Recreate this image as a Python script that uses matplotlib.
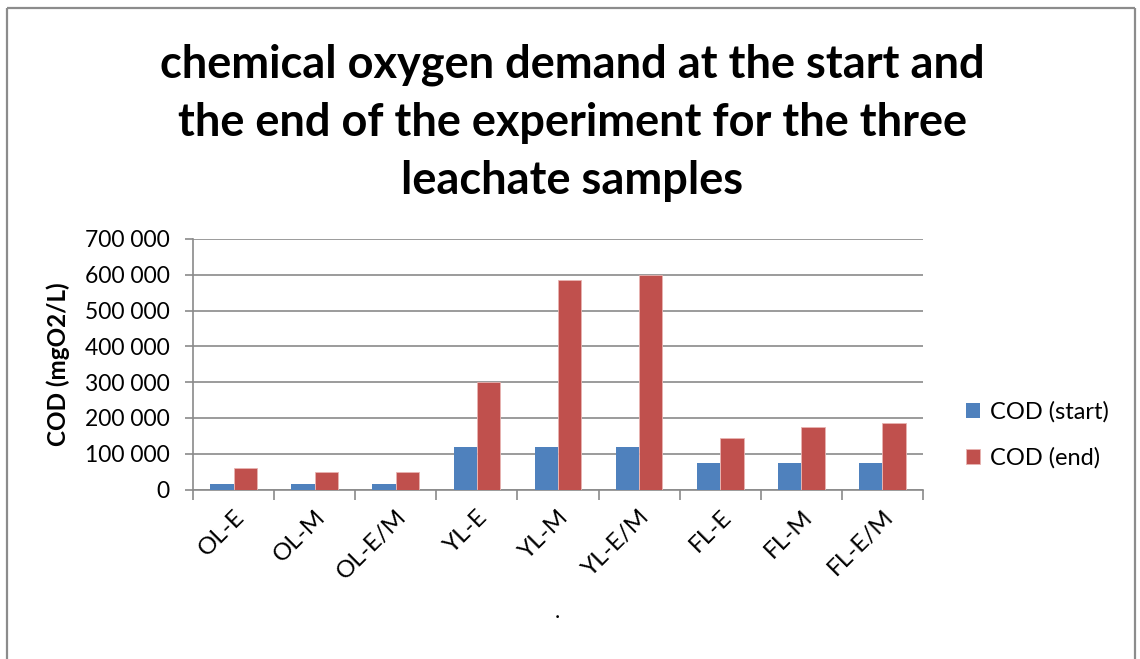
import matplotlib
matplotlib.use("Agg")
import matplotlib.pyplot as plt
from matplotlib.lines import Line2D
from matplotlib.ticker import FuncFormatter, FixedLocator
import numpy as np

categories = ["OL-E", "OL-M", "OL-E/M", "YL-E", "YL-M", "YL-E/M", "FL-E", "FL-M", "FL-E/M"]
cod_start = [15000, 15000, 15000, 120000, 120000, 120000, 75000, 75000, 75000]
cod_end = [60000, 50000, 50000, 300000, 585000, 600000, 143000, 175000, 187000]
series_names = ["COD (start)", "COD (end)"]
yticks = [0, 100000, 200000, 300000, 400000, 500000, 600000, 700000]
title = "chemical oxygen demand at the start and\nthe end of the experiment for the three\nleachate samples"
ylabel = "COD (mgO2/L)"

plt.rcParams['font.family'] = ['Lato', 'DejaVu Sans']

W, H = 1140, 659
fig = plt.figure(figsize=(W / 100, H / 100), dpi=100)
fig.patch.set_facecolor("white")

def fx(px):
    return px / W

def fy(py):
    return 1 - py / H

# outer frame
frame_c = "#8c8c8c"
for xs, ys in [([7, 7], [8, 670]), ([7, 1135], [8, 8]), ([1135, 1135], [8, 670])]:
    fig.add_artist(Line2D([fx(x) for x in xs], [fy(y) for y in ys], color=frame_c, lw=1.6,
                          transform=fig.transFigure, solid_capstyle="butt"))

ax_l, ax_r, ax_t, ax_b = 193, 923, 239, 489.5
ax = fig.add_axes([fx(ax_l), fy(ax_b), (ax_r - ax_l) / W, (ax_b - ax_t) / H])

x = np.arange(len(categories))
bw = 0.2875
blue = "#4F81BD"
red = "#C0504D"
ax.bar(x - bw / 2, cod_start, bw, color=blue, label=series_names[0], zorder=3)
ax.bar(x + bw / 2, cod_end, bw, color=red, label=series_names[1], zorder=3,
       edgecolor="#e8b4b2", linewidth=0.6)

ax.set_xlim(-0.5, len(categories) - 0.5)
ax.set_ylim(0, 700000)
ax.set_yticks(yticks)
ax.yaxis.set_major_formatter(FuncFormatter(lambda v, p: f"{v:,.0f}".replace(",", " ")))
ax.yaxis.grid(True, color="#8a8a8a", lw=1.2, zorder=0)
ax.set_axisbelow(True)

# x ticks at category boundaries, labels at centers
ax.xaxis.set_major_locator(FixedLocator(np.arange(-0.5, len(categories), 1.0)))
ax.xaxis.set_major_formatter(FuncFormatter(lambda v, p: ""))
ax.xaxis.set_minor_locator(FixedLocator(x))
ax.set_xticklabels(categories, minor=True, rotation=45, ha="right", va="top",
                   rotation_mode="anchor", fontsize=17.5)
ax.tick_params(axis="x", which="minor", length=0, pad=12)
ax.tick_params(axis="x", which="major", length=7, color="#8a8a8a", width=1.2)
ax.tick_params(axis="y", length=6, color="#8a8a8a", width=1.2, labelsize=16.5, pad=11)

for s in ["top", "right"]:
    ax.spines[s].set_visible(False)
for s in ["left", "bottom"]:
    ax.spines[s].set_color("#8a8a8a")
    ax.spines[s].set_linewidth(1.2)

ax.set_ylabel(ylabel, fontsize=17.5, fontweight="bold")
ax.yaxis.set_label_coords((70 - ax_l) / (ax_r - ax_l), 0.5)

fig.text(fx(572), fy(123), title, ha="center", va="center", fontsize=32.5,
         fontweight="bold", linespacing=1.47)

leg = ax.legend(loc="center left", bbox_to_anchor=(fx(945), fy(435)),
                bbox_transform=fig.transFigure, frameon=False, fontsize=17,
                handlelength=0.6, handleheight=0.6, handletextpad=0.4,
                labelspacing=1.05)

fig.text(fx(557), fy(612), ".", ha="center", va="center", fontsize=16)

fig.savefig("out.png", dpi=100, facecolor="white")
